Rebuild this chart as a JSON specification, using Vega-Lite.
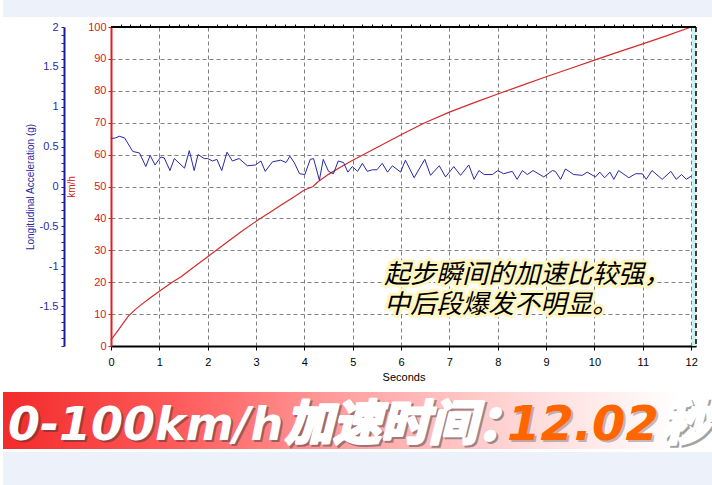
{
  "$schema": "https://vega.github.io/schema/vega-lite/v6.json",
  "background": "white",
  "padding": 0,
  "config": {"view": {"stroke": null}, "axis": {"labelFont": "Liberation Sans", "titleFont": "Liberation Sans"}},
  "datasets": {
    "speed": [
      {"t": 0, "v": 1.9}, {"t": 0.15, "v": 5.0}, {"t": 0.35, "v": 9.2}, {"t": 0.5, "v": 11.4}, {"t": 0.62, "v": 12.9},
      {"t": 0.8, "v": 15.0}, {"t": 1.03, "v": 17.5}, {"t": 1.25, "v": 19.8}, {"t": 1.45, "v": 21.7}, {"t": 1.7, "v": 24.6},
      {"t": 2.0, "v": 28.0}, {"t": 2.35, "v": 32.0}, {"t": 2.69, "v": 35.8}, {"t": 3.04, "v": 39.5}, {"t": 3.3, "v": 42.0},
      {"t": 3.52, "v": 44.2}, {"t": 3.75, "v": 46.4}, {"t": 4.0, "v": 48.9}, {"t": 4.18, "v": 50.0}, {"t": 4.28, "v": 51.5},
      {"t": 4.5, "v": 53.8}, {"t": 4.76, "v": 56.2}, {"t": 5.0, "v": 58.2}, {"t": 5.5, "v": 62.2}, {"t": 6.0, "v": 66.2},
      {"t": 6.48, "v": 69.9}, {"t": 7.0, "v": 73.3}, {"t": 7.5, "v": 76.2}, {"t": 8.0, "v": 79.0}, {"t": 8.5, "v": 81.7},
      {"t": 9.0, "v": 84.4}, {"t": 9.5, "v": 87.0}, {"t": 10.0, "v": 89.6}, {"t": 10.5, "v": 92.2}, {"t": 11.0, "v": 94.7},
      {"t": 11.5, "v": 97.3}, {"t": 12.0, "v": 100}
    ],
    "accel": [
      {"t": 0, "a": 0.6}, {"t": 0.1, "a": 0.61}, {"t": 0.17, "a": 0.63}, {"t": 0.28, "a": 0.61}, {"t": 0.45, "a": 0.44},
      {"t": 0.59, "a": 0.42}, {"t": 0.72, "a": 0.25}, {"t": 0.81, "a": 0.39}, {"t": 0.91, "a": 0.27}, {"t": 1.03, "a": 0.37},
      {"t": 1.1, "a": 0.36}, {"t": 1.22, "a": 0.2}, {"t": 1.31, "a": 0.35}, {"t": 1.52, "a": 0.23}, {"t": 1.62, "a": 0.45},
      {"t": 1.72, "a": 0.2}, {"t": 1.8, "a": 0.4}, {"t": 1.93, "a": 0.35}, {"t": 2.0, "a": 0.35}, {"t": 2.1, "a": 0.32},
      {"t": 2.19, "a": 0.34}, {"t": 2.29, "a": 0.2}, {"t": 2.4, "a": 0.43}, {"t": 2.51, "a": 0.32}, {"t": 2.65, "a": 0.35},
      {"t": 2.82, "a": 0.26}, {"t": 2.99, "a": 0.27}, {"t": 3.1, "a": 0.32}, {"t": 3.19, "a": 0.19}, {"t": 3.34, "a": 0.31},
      {"t": 3.51, "a": 0.33}, {"t": 3.62, "a": 0.3}, {"t": 3.7, "a": 0.38}, {"t": 3.79, "a": 0.3}, {"t": 3.9, "a": 0.16},
      {"t": 4.01, "a": 0.15}, {"t": 4.12, "a": 0.34}, {"t": 4.19, "a": 0.35}, {"t": 4.31, "a": 0.08}, {"t": 4.39, "a": 0.34},
      {"t": 4.5, "a": 0.19}, {"t": 4.6, "a": 0.16}, {"t": 4.7, "a": 0.32}, {"t": 4.81, "a": 0.3}, {"t": 4.9, "a": 0.18},
      {"t": 4.99, "a": 0.25}, {"t": 5.1, "a": 0.19}, {"t": 5.2, "a": 0.29}, {"t": 5.3, "a": 0.19}, {"t": 5.41, "a": 0.21},
      {"t": 5.5, "a": 0.21}, {"t": 5.61, "a": 0.29}, {"t": 5.72, "a": 0.18}, {"t": 5.82, "a": 0.26}, {"t": 5.99, "a": 0.18},
      {"t": 6.09, "a": 0.33}, {"t": 6.27, "a": 0.11}, {"t": 6.49, "a": 0.34}, {"t": 6.61, "a": 0.14}, {"t": 6.79, "a": 0.26},
      {"t": 6.92, "a": 0.12}, {"t": 7.09, "a": 0.25}, {"t": 7.23, "a": 0.14}, {"t": 7.4, "a": 0.27}, {"t": 7.51, "a": 0.09},
      {"t": 7.61, "a": 0.2}, {"t": 7.72, "a": 0.15}, {"t": 7.89, "a": 0.15}, {"t": 8.0, "a": 0.2}, {"t": 8.12, "a": 0.16},
      {"t": 8.3, "a": 0.19}, {"t": 8.4, "a": 0.09}, {"t": 8.51, "a": 0.2}, {"t": 8.61, "a": 0.15}, {"t": 8.73, "a": 0.2},
      {"t": 8.95, "a": 0.12}, {"t": 9.13, "a": 0.2}, {"t": 9.19, "a": 0.19}, {"t": 9.3, "a": 0.09}, {"t": 9.4, "a": 0.22},
      {"t": 9.57, "a": 0.15}, {"t": 9.75, "a": 0.14}, {"t": 9.85, "a": 0.18}, {"t": 10.02, "a": 0.12}, {"t": 10.11, "a": 0.18},
      {"t": 10.21, "a": 0.11}, {"t": 10.32, "a": 0.18}, {"t": 10.4, "a": 0.09}, {"t": 10.5, "a": 0.2}, {"t": 10.71, "a": 0.11},
      {"t": 10.85, "a": 0.16}, {"t": 10.99, "a": 0.16}, {"t": 11.07, "a": 0.09}, {"t": 11.19, "a": 0.2}, {"t": 11.4, "a": 0.09},
      {"t": 11.58, "a": 0.19}, {"t": 11.69, "a": 0.09}, {"t": 11.8, "a": 0.15}, {"t": 11.9, "a": 0.09}, {"t": 12.0, "a": 0.13}
    ],
    "notes": [
      {"t": 5.65, "v": 22.3, "label": "起步瞬间的加速比较强，"},
      {"t": 5.65, "v": 12.9, "label": "中后段爆发不明显。"}
    ]
  },
  "vconcat": [
    {"width": 712, "height": 17, "data": {"values": [{}]}, "mark": {"type": "rect", "fill": "#edf2fa"}},
    {
      "spacing": 10,
      "vconcat": [
        {
          "spacing": 18,
          "hconcat": [
            {"width": 1, "height": 1, "data": {"values": [{}]}, "mark": {"type": "point", "opacity": 0}},
            {
              "width": 585,
              "height": 319,
              "layer": [
                {
                  "layer": [
                    {
                      "data": {"name": "speed"},
                      "mark": {"type": "line", "color": "#d42a2a", "strokeWidth": 1.2},
                      "encoding": {
                        "x": {"field": "t", "type": "quantitative", "scale": {"domain": [0, 12.1], "nice": false},
                          "axis": {"title": "Seconds", "titleFontWeight": "normal", "titleFontSize": 11, "titleColor": "black", "titlePadding": 4,
                            "values": [0,1,2,3,4,5,6,7,8,9,10,11,12], "format": "d", "labelFlush": false, "labelColor": "black", "labelFontSize": 11,
                            "labelPadding": 6, "tickSize": 4, "tickColor": "black", "domainColor": "black", "domainWidth": 2,
                            "grid": true, "gridDash": [4, 3], "gridColor": "#808080", "gridWidth": 1}},
                        "y": {"field": "v", "type": "quantitative", "scale": {"domain": [0, 100], "nice": false},
                          "axis": {"orient": "left", "title": "km/h", "titleColor": "#d42020", "titleFontSize": 10, "titleFontWeight": "normal", "titlePadding": 11,
                            "values": [0,10,20,30,40,50,60,70,80,90,100], "format": "d", "labelFlush": false, "labelOverlap": false, "labelColor": "#d42020", "labelFontSize": 11,
                            "labelPadding": 2, "tickSize": 3, "tickColor": "#d42020", "domainColor": "#e02020", "domainWidth": 2,
                            "grid": true, "gridDash": [4, 3], "gridColor": "#808080", "gridWidth": 1}}
                      }
                    },
                    {
                      "data": {"name": "notes"},
                      "mark": {"type": "text", "align": "left", "baseline": "middle", "font": "Noto Sans CJK SC", "fontSize": 26, "fontStyle": "italic", "fill": "#fff6c0", "stroke": "#fff6c0", "strokeWidth": 6, "strokeJoin": "round"},
                      "encoding": {
                        "x": {"field": "t", "type": "quantitative", "scale": {"domain": [0, 12.1], "nice": false},
                          "axis": {"title": "Seconds", "titleFontWeight": "normal", "titleFontSize": 11, "titleColor": "black", "titlePadding": 4,
                            "values": [0,1,2,3,4,5,6,7,8,9,10,11,12], "format": "d", "labelFlush": false, "labelColor": "black", "labelFontSize": 11,
                            "labelPadding": 6, "tickSize": 4, "tickColor": "black", "domainColor": "black", "domainWidth": 2,
                            "grid": true, "gridDash": [4, 3], "gridColor": "#808080", "gridWidth": 1}},
                        "y": {"field": "v", "type": "quantitative", "scale": {"domain": [0, 100], "nice": false},
                          "axis": {"orient": "left", "title": "km/h", "titleColor": "#d42020", "titleFontSize": 10, "titleFontWeight": "normal", "titlePadding": 11,
                            "values": [0,10,20,30,40,50,60,70,80,90,100], "format": "d", "labelFlush": false, "labelOverlap": false, "labelColor": "#d42020", "labelFontSize": 11,
                            "labelPadding": 2, "tickSize": 3, "tickColor": "#d42020", "domainColor": "#e02020", "domainWidth": 2,
                            "grid": true, "gridDash": [4, 3], "gridColor": "#808080", "gridWidth": 1}},
                        "text": {"field": "label"}
                      }
                    },
                    {
                      "data": {"name": "notes"},
                      "mark": {"type": "text", "align": "left", "baseline": "middle", "font": "Noto Sans CJK SC", "fontSize": 26, "fontStyle": "italic", "fill": "black"},
                      "encoding": {
                        "x": {"field": "t", "type": "quantitative", "scale": {"domain": [0, 12.1], "nice": false},
                          "axis": {"title": "Seconds", "titleFontWeight": "normal", "titleFontSize": 11, "titleColor": "black", "titlePadding": 4,
                            "values": [0,1,2,3,4,5,6,7,8,9,10,11,12], "format": "d", "labelFlush": false, "labelColor": "black", "labelFontSize": 11,
                            "labelPadding": 6, "tickSize": 4, "tickColor": "black", "domainColor": "black", "domainWidth": 2,
                            "grid": true, "gridDash": [4, 3], "gridColor": "#808080", "gridWidth": 1}},
                        "y": {"field": "v", "type": "quantitative", "scale": {"domain": [0, 100], "nice": false},
                          "axis": {"orient": "left", "title": "km/h", "titleColor": "#d42020", "titleFontSize": 10, "titleFontWeight": "normal", "titlePadding": 11,
                            "values": [0,10,20,30,40,50,60,70,80,90,100], "format": "d", "labelFlush": false, "labelOverlap": false, "labelColor": "#d42020", "labelFontSize": 11,
                            "labelPadding": 2, "tickSize": 3, "tickColor": "#d42020", "domainColor": "#e02020", "domainWidth": 2,
                            "grid": true, "gridDash": [4, 3], "gridColor": "#808080", "gridWidth": 1}},
                        "text": {"field": "label"}
                      }
                    }
                  ]
                },
                {
                  "layer": [
                    {
                      "data": {"values": [{}]},
                      "mark": {"type": "rect", "fill": "#c6f2f0"},
                      "encoding": {
                        "x": {"datum": 12.02, "type": "quantitative", "scale": {"domain": [0, 12.1], "nice": false},
                          "axis": {"title": null, "labels": false, "domain": false, "grid": false, "tickSize": 3, "tickColor": "black",
                            "values": [0.2,0.4,0.6,0.8,1.2,1.4,1.6,1.8,2.2,2.4,2.6,2.8,3.2,3.4,3.6,3.8,4.2,4.4,4.6,4.8,5.2,5.4,5.6,5.8,6.2,6.4,6.6,6.8,7.2,7.4,7.6,7.8,8.2,8.4,8.6,8.8,9.2,9.4,9.6,9.8,10.2,10.4,10.6,10.8,11.2,11.4,11.6,11.8]}},
                        "x2": {"datum": 12.1}
                      }
                    },
                    {
                      "data": {"name": "accel"},
                      "mark": {"type": "line", "color": "#2828a8", "strokeWidth": 1},
                      "encoding": {
                        "x": {"field": "t", "type": "quantitative", "scale": {"domain": [0, 12.1], "nice": false},
                          "axis": {"title": null, "labels": false, "domain": false, "grid": false, "tickSize": 3, "tickColor": "black",
                            "values": [0.2,0.4,0.6,0.8,1.2,1.4,1.6,1.8,2.2,2.4,2.6,2.8,3.2,3.4,3.6,3.8,4.2,4.4,4.6,4.8,5.2,5.4,5.6,5.8,6.2,6.4,6.6,6.8,7.2,7.4,7.6,7.8,8.2,8.4,8.6,8.8,9.2,9.4,9.6,9.8,10.2,10.4,10.6,10.8,11.2,11.4,11.6,11.8]}},
                        "y": {"field": "a", "type": "quantitative", "scale": {"domain": [-2, 2], "nice": false},
                          "axis": {"orient": "left", "offset": 47, "title": "Longitudinal Acceleration (g)", "titleColor": "#2a2aa8", "titleFontSize": 10, "titleFontWeight": "normal", "titlePadding": 4,
                            "values": [-2,-1.9,-1.8,-1.7,-1.6,-1.5,-1.4,-1.3,-1.2,-1.1,-1,-0.9,-0.8,-0.7,-0.6,-0.5,-0.4,-0.3,-0.2,-0.1,0,0.1,0.2,0.3,0.4,0.5,0.6,0.7,0.8,0.9,1,1.1,1.2,1.3,1.4,1.5,1.6,1.7,1.8,1.9,2],
                            "labelExpr": "abs(datum.value * 2 - round(datum.value * 2)) < 0.01 && datum.value > -1.9 ? '' + datum.value : ''",
                            "labelOverlap": false, "labelFlush": false, "labelColor": "#2a2aa8", "labelFontSize": 11, "labelPadding": 3,
                            "tickSize": 3, "tickColor": "#2020a0", "domainColor": "#1a1aa0", "domainWidth": 2, "grid": false}}
                      }
                    },
                    {
                      "data": {"values": [{}]},
                      "mark": {"type": "rule", "color": "black", "strokeWidth": 2},
                      "encoding": {
                        "y": {"datum": 2, "type": "quantitative", "scale": {"domain": [-2, 2], "nice": false},
                          "axis": {"orient": "left", "offset": 47, "title": "Longitudinal Acceleration (g)", "titleColor": "#2a2aa8", "titleFontSize": 10, "titleFontWeight": "normal", "titlePadding": 4,
                            "values": [-2,-1.9,-1.8,-1.7,-1.6,-1.5,-1.4,-1.3,-1.2,-1.1,-1,-0.9,-0.8,-0.7,-0.6,-0.5,-0.4,-0.3,-0.2,-0.1,0,0.1,0.2,0.3,0.4,0.5,0.6,0.7,0.8,0.9,1,1.1,1.2,1.3,1.4,1.5,1.6,1.7,1.8,1.9,2],
                            "labelExpr": "abs(datum.value * 2 - round(datum.value * 2)) < 0.01 && datum.value > -1.9 ? '' + datum.value : ''",
                            "labelOverlap": false, "labelFlush": false, "labelColor": "#2a2aa8", "labelFontSize": 11, "labelPadding": 3,
                            "tickSize": 3, "tickColor": "#2020a0", "domainColor": "#1a1aa0", "domainWidth": 2, "grid": false}}
                      }
                    },
                    {
                      "data": {"values": [{}]},
                      "mark": {"type": "rule", "color": "black", "strokeWidth": 1.5, "strokeDash": [5, 3]},
                      "encoding": {
                        "x": {"datum": 12.1, "type": "quantitative", "scale": {"domain": [0, 12.1], "nice": false},
                          "axis": {"title": null, "labels": false, "domain": false, "grid": false, "tickSize": 3, "tickColor": "black",
                            "values": [0.2,0.4,0.6,0.8,1.2,1.4,1.6,1.8,2.2,2.4,2.6,2.8,3.2,3.4,3.6,3.8,4.2,4.4,4.6,4.8,5.2,5.4,5.6,5.8,6.2,6.4,6.6,6.8,7.2,7.4,7.6,7.8,8.2,8.4,8.6,8.8,9.2,9.4,9.6,9.8,10.2,10.4,10.6,10.8,11.2,11.4,11.6,11.8]}}
                      }
                    }
                  ]
                }
              ],
              "resolve": {"scale": {"y": "independent"}, "axis": {"x": "independent"}}
            }
          ]
        },
        {
          "spacing": 0,
          "vconcat": [
            {
              "width": 712,
              "height": 57,
              "layer": [
                {
                  "data": {"values": [{}]},
                  "mark": {"type": "rect", "fill": {"gradient": "linear", "x1": 0, "y1": 0, "x2": 1, "y2": 0,
                    "stops": [{"offset": 0, "color": "#f22a2a"}, {"offset": 0.25, "color": "#ff5c5c"}, {"offset": 0.5, "color": "#ffa5a5"}, {"offset": 0.75, "color": "#ffdcdc"}, {"offset": 0.95, "color": "#ffffff"}]}}
                },
                {
                  "data": {"values": [{"label": "0-100km/h"}]},
                  "mark": {"type": "text", "align": "left", "baseline": "alphabetic", "dx": -349, "dy": 21.5, "font": "DejaVu Sans", "fontSize": 46, "fontWeight": "bold", "fontStyle": "italic", "fill": "#333333", "opacity": 0.45},
                  "encoding": {"text": {"field": "label"}}
                },
                {
                  "data": {"values": [{"label": "加速时间："}]},
                  "mark": {"type": "text", "align": "left", "baseline": "alphabetic", "dx": -72, "dy": 21.5, "font": "Noto Sans CJK SC", "fontSize": 48, "fontWeight": "bold", "fontStyle": "italic", "fill": "#333333", "stroke": "#333333", "strokeWidth": 3, "opacity": 0.45},
                  "encoding": {"text": {"field": "label"}}
                },
                {
                  "data": {"values": [{"label": "12.02"}]},
                  "mark": {"type": "text", "align": "left", "baseline": "alphabetic", "dx": 150, "dy": 21.5, "font": "DejaVu Sans", "fontSize": 48, "fontWeight": "bold", "fontStyle": "italic", "fill": "#333333", "opacity": 0.3},
                  "encoding": {"text": {"field": "label"}}
                },
                {
                  "data": {"values": [{"label": "秒"}]},
                  "mark": {"type": "text", "align": "left", "baseline": "alphabetic", "dx": 305, "dy": 21.5, "font": "Noto Sans CJK SC", "fontSize": 48, "fontWeight": "bold", "fontStyle": "italic", "fill": "#333333", "stroke": "#333333", "strokeWidth": 3, "opacity": 0.45},
                  "encoding": {"text": {"field": "label"}}
                },
                {
                  "data": {"values": [{"label": "0-100km/h"}]},
                  "mark": {"type": "text", "align": "left", "baseline": "alphabetic", "dx": -351, "dy": 19.5, "font": "DejaVu Sans", "fontSize": 46, "fontWeight": "bold", "fontStyle": "italic", "fill": "white"},
                  "encoding": {"text": {"field": "label"}}
                },
                {
                  "data": {"values": [{"label": "加速时间："}]},
                  "mark": {"type": "text", "align": "left", "baseline": "alphabetic", "dx": -74, "dy": 19.5, "font": "Noto Sans CJK SC", "fontSize": 48, "fontWeight": "bold", "fontStyle": "italic", "fill": "white", "stroke": "white", "strokeWidth": 3, "strokeJoin": "round"},
                  "encoding": {"text": {"field": "label"}}
                },
                {
                  "data": {"values": [{"label": "12.02"}]},
                  "mark": {"type": "text", "align": "left", "baseline": "alphabetic", "dx": 148, "dy": 19.5, "font": "DejaVu Sans", "fontSize": 48, "fontWeight": "bold", "fontStyle": "italic", "fill": "#ff6600"},
                  "encoding": {"text": {"field": "label"}}
                },
                {
                  "data": {"values": [{"label": "秒"}]},
                  "mark": {"type": "text", "align": "left", "baseline": "alphabetic", "dx": 303, "dy": 19.5, "font": "Noto Sans CJK SC", "fontSize": 48, "fontWeight": "bold", "fontStyle": "italic", "fill": "white", "stroke": "white", "strokeWidth": 3, "strokeJoin": "round"},
                  "encoding": {"text": {"field": "label"}}
                }
              ]
            },
            {"width": 712, "height": 34, "data": {"values": [{}]}, "mark": {"type": "rect", "fill": "#edf2fa"}}
          ]
        }
      ]
    }
  ],
  "spacing": 4
}
